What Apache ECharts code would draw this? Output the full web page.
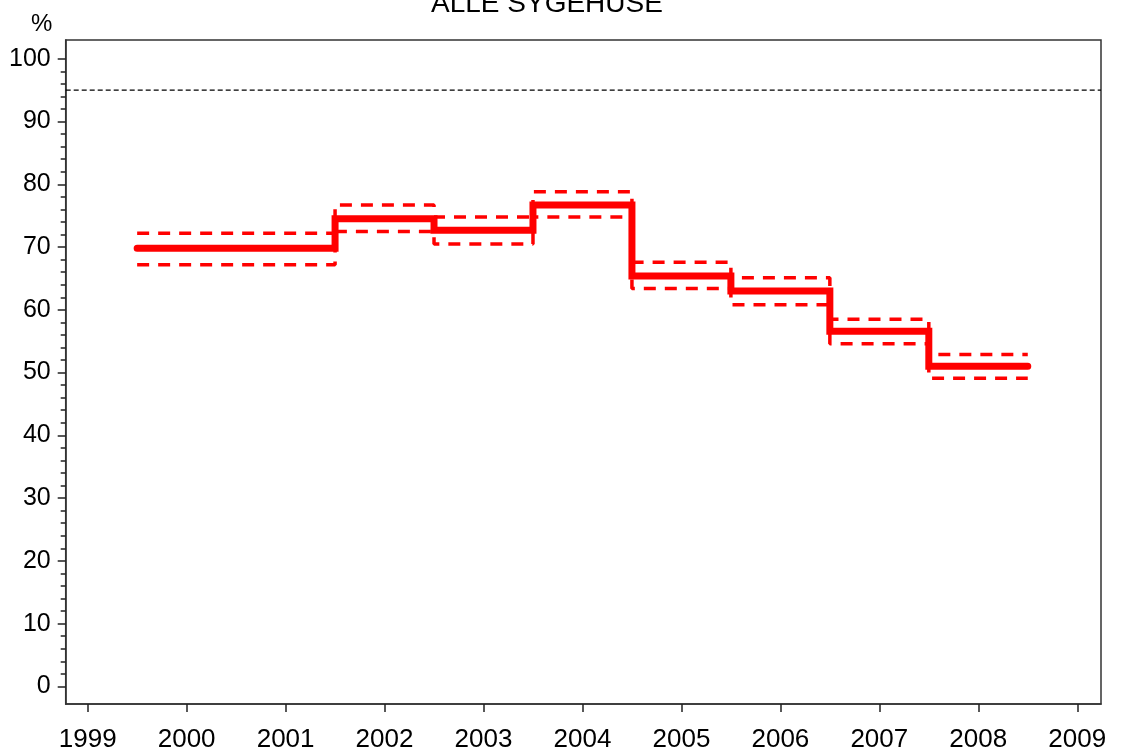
<!DOCTYPE html>
<html>
<head>
<meta charset="utf-8">
<script src="https://cdn.jsdelivr.net/npm/echarts@6/dist/echarts.min.js"></script>
<style>html,body{margin:0;padding:0;background:#fff;}#c{width:1122px;height:753px;}</style>
</head>
<body>
<div id="c"></div>
<script>
// Period boundaries (year axis) and per-period values (%)
const periodStart = [1999.5, 2001.5, 2002.5, 2003.5, 2004.5, 2005.5, 2006.5, 2007.5];
const periodEnd   = [2001.5, 2002.5, 2003.5, 2004.5, 2005.5, 2006.5, 2007.5, 2008.5];
const meanValues  = [69.8, 74.5, 72.7, 76.7, 65.4, 63.0, 56.6, 51.0];
const upperValues = [72.2, 76.7, 74.8, 78.8, 67.6, 65.1, 58.5, 52.9];
const lowerValues = [67.2, 72.5, 70.5, 74.8, 63.4, 60.8, 54.6, 49.1];
const targetLevel = 95;
const yearTicks  = [1999, 2000, 2001, 2002, 2003, 2004, 2005, 2006, 2007, 2008, 2009];
const yMajorTicks = [0, 10, 20, 30, 40, 50, 60, 70, 80, 90, 100];
const yMinorTicks = [2, 4, 6, 8, 12, 14, 16, 18, 22, 24, 26, 28, 32, 34, 36, 38, 42, 44, 46, 48,
                     52, 54, 56, 58, 62, 64, 66, 68, 72, 74, 76, 78, 82, 84, 86, 88, 92, 94, 96, 98];
const xRange = [1998.778, 2009.24];
const yRange = [-2.81, 103.0];
const titleText = 'ALLE SYGEHUSE';
const yUnit = '%';

function stepData(vals) {
  const out = [];
  for (let i = 0; i < vals.length; i++) {
    out.push([periodStart[i], vals[i]]);
    out.push([periodEnd[i], vals[i]]);
  }
  return out;
}

const FONT = '"Liberation Sans", Arial, sans-serif';
const RED = '#ff0000';
const AXC = '#222';

const chart = echarts.init(document.getElementById('c'), null, {renderer: 'canvas'});
chart.setOption({
  animation: false,
  backgroundColor: '#fff',
  title: [
    {text: titleText, left: 426, top: -15, textStyle: {fontFamily: FONT, fontSize: 28, fontWeight: 'normal', color: '#000'}},
    {text: yUnit, left: 26, top: 7, textStyle: {fontFamily: FONT, fontSize: 24, fontWeight: 'normal', color: '#000'}}
  ],
  grid: [
    {left: 65.7, right: 21, top: 40, bottom: 48, show: true, borderColor: '#333', borderWidth: 1.5, backgroundColor: 'transparent'}
  ],
  xAxis: [
    {type: 'value', min: xRange[0], max: xRange[1], position: 'bottom',
     splitLine: {show: false},
     axisLine: {show: true, onZero: false, lineStyle: {color: '#333', width: 1.5}},
     axisTick: {show: true, length: 8, customValues: yearTicks, lineStyle: {color: AXC, width: 1.5}},
     axisLabel: {fontFamily: FONT, fontSize: 26, color: '#000', margin: 23, customValues: yearTicks, formatter: v => String(v)}}
  ],
  yAxis: [
    {type: 'value', min: yRange[0], max: yRange[1], position: 'left',
     splitLine: {show: false},
     axisLine: {show: true, onZero: false, lineStyle: {color: '#333', width: 1.5}},
     axisTick: {show: true, length: 8, customValues: yMajorTicks, lineStyle: {color: AXC, width: 1.5}},
     axisLabel: {fontFamily: FONT, fontSize: 25, color: '#000', margin: 15, customValues: yMajorTicks}},
    {type: 'value', min: yRange[0], max: yRange[1], position: 'left', offset: 0,
     splitLine: {show: false},
     axisLine: {show: false, onZero: false},
     axisTick: {show: true, length: 5, customValues: yMinorTicks, lineStyle: {color: AXC, width: 1.5}},
     axisLabel: {show: false}}
  ],
  series: [
    {type: 'line', yAxisIndex: 0, data: [[xRange[0], targetLevel], [xRange[1], targetLevel]], symbol: 'none',
     lineStyle: {color: '#000', width: 1.2, type: [5, 3]}, silent: true},
    {type: 'line', yAxisIndex: 0, data: stepData(upperValues), symbol: 'none',
     lineStyle: {color: RED, width: 3.5, type: [12, 9]}},
    {type: 'line', yAxisIndex: 0, data: stepData(lowerValues), symbol: 'none',
     lineStyle: {color: RED, width: 3.5, type: [12, 9]}},
    {type: 'line', yAxisIndex: 0, data: stepData(meanValues), symbol: 'none',
     lineStyle: {color: RED, width: 7, cap: 'round', join: 'miter'}}
  ]
});
</script>
</body>
</html>
